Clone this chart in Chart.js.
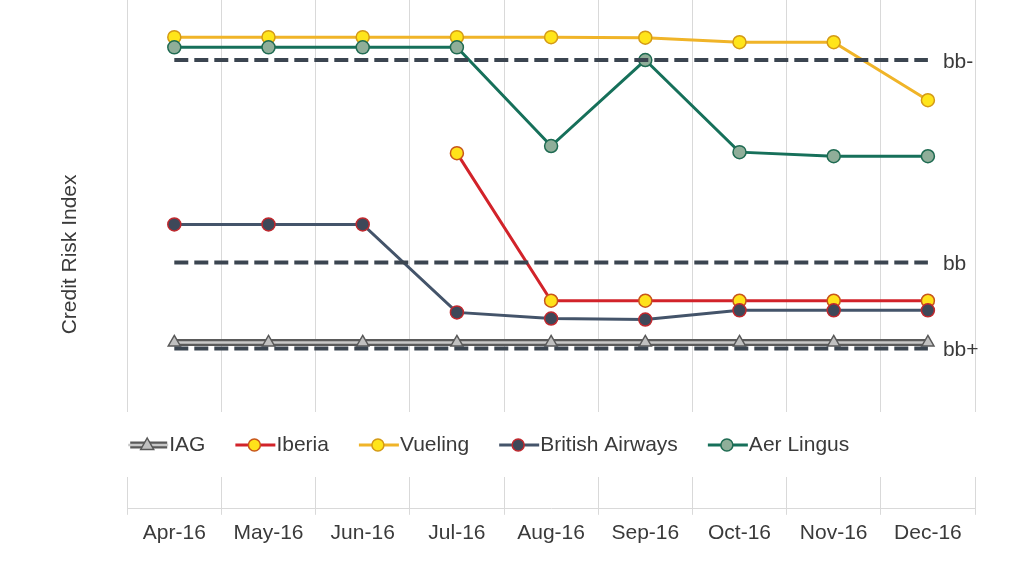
<!DOCTYPE html>
<html>
<head>
<meta charset="utf-8">
<script src="https://cdn.jsdelivr.net/npm/chart.js@4.4.1/dist/chart.umd.min.js"></script>
<style>
    html, body { margin: 0; padding: 0; background: #ffffff; }
    #wrap { width: 1024px; height: 579px; position: relative; }
</style>
</head>
<body>
<div id="wrap"><canvas id="riskChart"></canvas></div>
<script>
// Données (échelle arbitraire 0-100)
const months = ['Apr-16', 'May-16', 'Jun-16', 'Jul-16', 'Aug-16', 'Sep-16', 'Oct-16', 'Nov-16', 'Dec-16'];
const iag = [32.7, 32.7, 32.7, 32.7, 32.7, 32.7, 32.7, 32.7, 32.7];
const iberia = [null, null, null, 69.9, 40.9, 40.9, 40.9, 40.9, 40.9];
const vueling = [92.7, 92.7, 92.7, 92.7, 92.7, 92.6, 91.7, 91.7, 80.3];
const britishAirways = [55.9, 55.9, 55.9, 38.6, 37.4, 37.2, 39.0, 39.0, 39.0];
const aerLingus = [90.7, 90.7, 90.7, 90.7, 71.3, 88.2, 70.1, 69.3, 69.3];
const ratingNames = ['bb-', 'bb', 'bb+'];
const ratingLevels = [88.2, 48.4, 31.5];

const textColor = '#3a3a3a';
const fontFamily = '"Liberation Sans", Arial, sans-serif';
const fontSize = 21;

// Lignes de seuil (notations)
const ratingSets = ratingNames.map((name, i) => ({
    label: name,
    rating: true,
    data: months.map(() => ratingLevels[i]),
    borderColor: '#3b4550',
    borderWidth: 4,
    borderDash: [14, 6],
    pointRadius: 0,
    fill: false
}));

function series(label, data, line, fillColor, edge) {
    return {
        label: label,
        data: data,
        borderColor: line,
        borderWidth: 3,
        pointRadius: 6.5,
        pointBorderWidth: 1.5,
        pointBackgroundColor: fillColor,
        pointBorderColor: edge,
        tension: 0,
        fill: false
    };
}

const datasets = [
    ...ratingSets,
    series('British Airways', britishAirways, '#44546a', '#3e4859', '#c0282e'),
    series('Aer Lingus', aerLingus, '#16705a', '#8fae99', '#1f6b52'),
    series('Iberia', iberia, '#d2232a', '#ffe21a', '#c8561a'),
    series('Vueling', vueling, '#f0b428', '#ffe51a', '#d49a16'),
    {
        label: 'IAG',
        data: iag,
        borderColor: '#c8c8c8',
        borderWidth: 2.5,
        pointStyle: 'triangle',
        pointRadius: 7,
        pointBorderWidth: 1.5,
        pointBackgroundColor: '#c0c0c0',
        pointBorderColor: '#595959',
        fill: false
    },
    {
        label: 'IAG outline',
        helper: true,
        data: iag,
        borderColor: '#5a5a5a',
        borderWidth: 7,
        pointRadius: 0,
        fill: false
    }
];

// Légende dessinée dans la bande blanche, étiquettes des seuils
const insideLegend = {
    id: 'insideLegend',
    beforeDatasetsDraw(chart) {
        const { ctx, chartArea } = chart;
        ctx.save();
        ctx.fillStyle = '#ffffff';
        ctx.fillRect(chartArea.left - 2, 412, chartArea.right - chartArea.left + 4, 65);
        ctx.restore();
    },
    afterDatasetsDraw(chart) {
        const { ctx } = chart;
        ctx.save();
        ctx.font = fontSize + 'px ' + fontFamily;
        ctx.fillStyle = textColor;
        ctx.textBaseline = 'middle';
        chart.data.datasets.forEach((ds, i) => {
            if (!ds.rating) return;
            const pts = chart.getDatasetMeta(i).data;
            const last = pts[pts.length - 1];
            ctx.fillText(ds.label, last.x + 15, last.y + 2);
        });
        ctx.restore();
    },
    afterDraw(chart) {
        const { ctx } = chart;
        const order = ['IAG', 'Iberia', 'Vueling', 'British Airways', 'Aer Lingus'];
        const byLabel = {};
        chart.data.datasets.forEach(ds => { byLabel[ds.label] = ds; });
        const y = 445;
        let x = chart.chartArea.left;
        ctx.save();
        ctx.font = fontSize + 'px ' + fontFamily;
        ctx.textBaseline = 'middle';
        order.forEach(name => {
            const ds = byLabel[name];
            const cx = x + 20;
            if (name === 'IAG') {
                const outline = byLabel['IAG outline'];
                ctx.strokeStyle = outline.borderColor;
                ctx.lineWidth = outline.borderWidth;
                ctx.beginPath(); ctx.moveTo(x + 3, y); ctx.lineTo(x + 40, y); ctx.stroke();
            }
            ctx.strokeStyle = ds.borderColor;
            ctx.lineWidth = ds.borderWidth;
            ctx.beginPath(); ctx.moveTo(x + 1, y); ctx.lineTo(x + 41, y); ctx.stroke();
            ctx.fillStyle = ds.pointBackgroundColor;
            ctx.strokeStyle = ds.pointBorderColor;
            ctx.lineWidth = ds.pointBorderWidth;
            ctx.beginPath();
            if ((ds.pointStyle || 'circle') === 'circle') {
                ctx.arc(cx, y, 6, 0, Math.PI * 2);
            } else {
                ctx.moveTo(cx, y - 7); ctx.lineTo(cx + 6.5, y + 4.5); ctx.lineTo(cx - 6.5, y + 4.5); ctx.closePath();
            }
            ctx.fill(); ctx.stroke();
            ctx.fillStyle = textColor;
            ctx.fillText(name, x + 42, y);
            x += 42 + ctx.measureText(name).width + 29;
        });
        ctx.restore();
    }
};

new Chart(document.getElementById('riskChart'), {
    type: 'line',
    data: { labels: months, datasets: datasets },
    options: {
        responsive: true,
        maintainAspectRatio: false,
        animation: false,
        layout: { autoPadding: false, padding: { top: 0, left: 58, right: 49, bottom: 27 } },
        plugins: {
            legend: { display: false },
            tooltip: { enabled: false }
        },
        scales: {
            x: {
                offset: true,
                grid: { offset: true, color: '#d9d9d9', lineWidth: 1, tickLength: 6 },
                border: { color: '#d9d9d9' },
                ticks: { color: textColor, font: { size: fontSize, family: fontFamily }, padding: 6, maxRotation: 0, autoSkip: false }
            },
            y: {
                min: 0,
                max: 100,
                grid: { display: false },
                border: { display: false },
                ticks: { display: false },
                title: {
                    display: true,
                    text: 'Credit Risk Index',
                    color: textColor,
                    font: { size: fontSize, family: fontFamily },
                    padding: { top: 0, bottom: 36 }
                }
            }
        }
    },
    plugins: [insideLegend]
});
</script>
</body>
</html>
